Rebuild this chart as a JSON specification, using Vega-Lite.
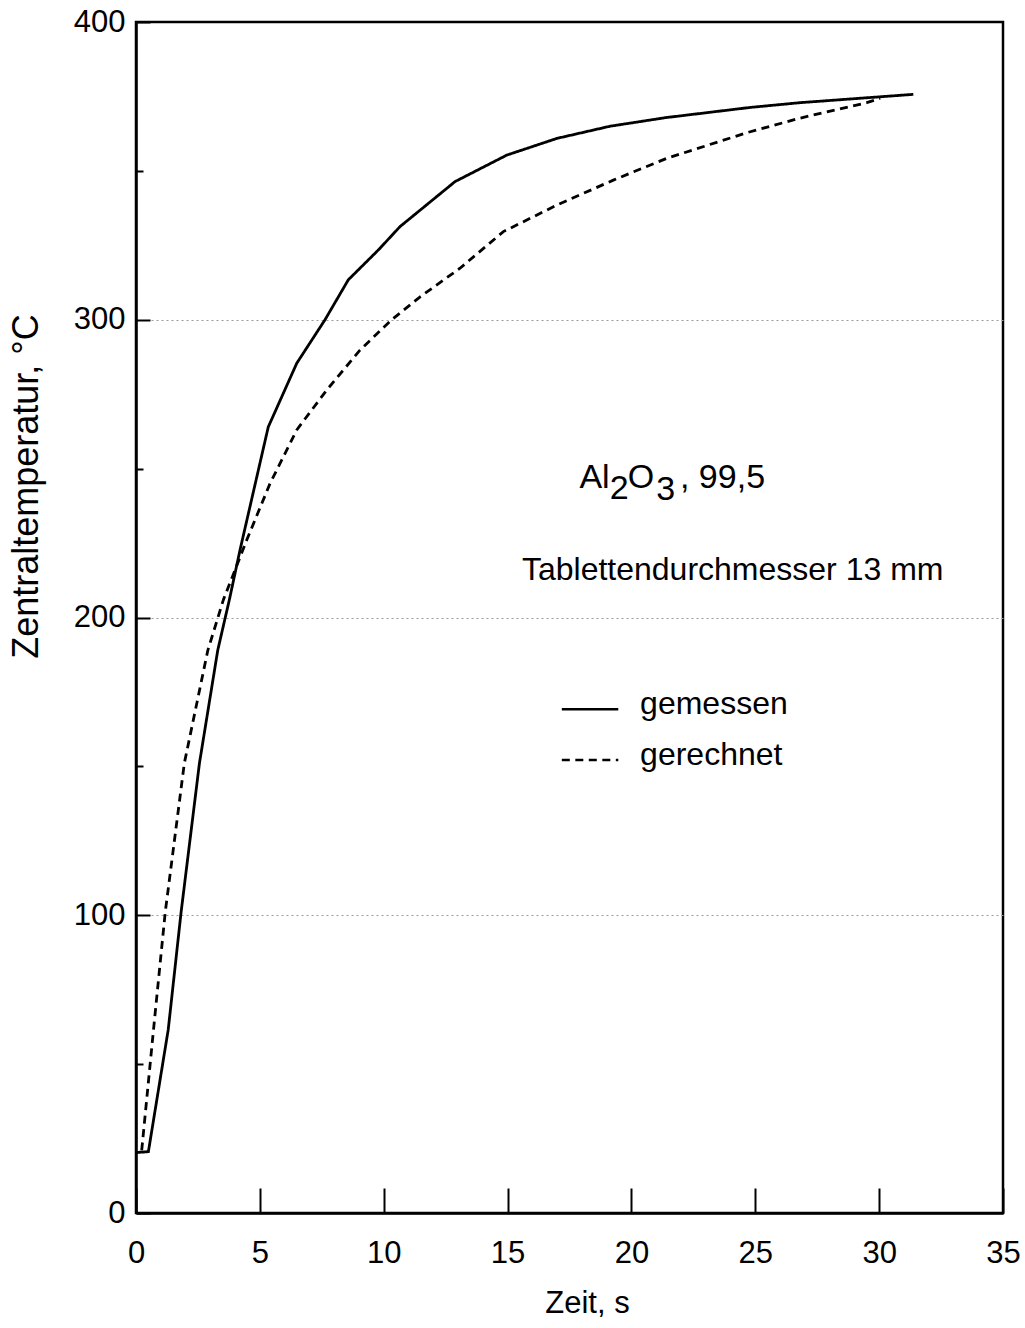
{
  "$schema": "https://vega.github.io/schema/vega-lite/v6.json",
  "width": 867,
  "height": 1191,
  "autosize": {"type": "none"},
  "padding": {"left": 136, "top": 22, "right": 22, "bottom": 115},
  "background": "white",
  "config": {
    "font": "Liberation Sans",
    "view": {"stroke": "black", "strokeWidth": 2.5},
    "axis": {"labelColor": "black", "titleColor": "black", "titleFontWeight": "normal", "domainColor": "black", "tickColor": "black", "labelFont": "Liberation Sans", "titleFont": "Liberation Sans"}
  },
  "datasets": {
    "kurven": [
      {"Serie": "gemessen", "Zeit": 0, "Temperatur": 20.3},
      {"Serie": "gemessen", "Zeit": 0.5, "Temperatur": 20.6},
      {"Serie": "gemessen", "Zeit": 1.3, "Temperatur": 61.5},
      {"Serie": "gemessen", "Zeit": 1.82, "Temperatur": 101},
      {"Serie": "gemessen", "Zeit": 2.56, "Temperatur": 151},
      {"Serie": "gemessen", "Zeit": 3.3, "Temperatur": 189},
      {"Serie": "gemessen", "Zeit": 3.77, "Temperatur": 206},
      {"Serie": "gemessen", "Zeit": 4.2, "Temperatur": 222.7},
      {"Serie": "gemessen", "Zeit": 5.34, "Temperatur": 264},
      {"Serie": "gemessen", "Zeit": 6.49, "Temperatur": 285.4},
      {"Serie": "gemessen", "Zeit": 7.63, "Temperatur": 300},
      {"Serie": "gemessen", "Zeit": 8.57, "Temperatur": 313.4},
      {"Serie": "gemessen", "Zeit": 9.78, "Temperatur": 323.4},
      {"Serie": "gemessen", "Zeit": 10.66, "Temperatur": 331.3},
      {"Serie": "gemessen", "Zeit": 12.88, "Temperatur": 346.4},
      {"Serie": "gemessen", "Zeit": 14.97, "Temperatur": 355.3},
      {"Serie": "gemessen", "Zeit": 16.99, "Temperatur": 360.9},
      {"Serie": "gemessen", "Zeit": 19.14, "Temperatur": 365},
      {"Serie": "gemessen", "Zeit": 21.4, "Temperatur": 367.9},
      {"Serie": "gemessen", "Zeit": 24.79, "Temperatur": 371.3},
      {"Serie": "gemessen", "Zeit": 26.8, "Temperatur": 372.9},
      {"Serie": "gemessen", "Zeit": 31.38, "Temperatur": 375.7},
      {"Serie": "gerechnet", "Zeit": 0.23, "Temperatur": 21},
      {"Serie": "gerechnet", "Zeit": 0.7, "Temperatur": 61},
      {"Serie": "gerechnet", "Zeit": 1.18, "Temperatur": 101},
      {"Serie": "gerechnet", "Zeit": 1.95, "Temperatur": 151},
      {"Serie": "gerechnet", "Zeit": 2.9, "Temperatur": 189},
      {"Serie": "gerechnet", "Zeit": 3.53, "Temperatur": 206},
      {"Serie": "gerechnet", "Zeit": 4.47, "Temperatur": 226},
      {"Serie": "gerechnet", "Zeit": 5.41, "Temperatur": 245},
      {"Serie": "gerechnet", "Zeit": 6.49, "Temperatur": 263},
      {"Serie": "gerechnet", "Zeit": 7.7, "Temperatur": 276.4},
      {"Serie": "gerechnet", "Zeit": 9.04, "Temperatur": 289.8},
      {"Serie": "gerechnet", "Zeit": 10.32, "Temperatur": 300},
      {"Serie": "gerechnet", "Zeit": 11.47, "Temperatur": 307.7},
      {"Serie": "gerechnet", "Zeit": 13.08, "Temperatur": 317.3},
      {"Serie": "gerechnet", "Zeit": 14.83, "Temperatur": 329.6},
      {"Serie": "gerechnet", "Zeit": 16.99, "Temperatur": 338.5},
      {"Serie": "gerechnet", "Zeit": 19.27, "Temperatur": 346.9},
      {"Serie": "gerechnet", "Zeit": 21.42, "Temperatur": 354.2},
      {"Serie": "gerechnet", "Zeit": 24.65, "Temperatur": 362.8},
      {"Serie": "gerechnet", "Zeit": 26.8, "Temperatur": 367.7},
      {"Serie": "gerechnet", "Zeit": 29.5, "Temperatur": 372.9},
      {"Serie": "gerechnet", "Zeit": 30.04, "Temperatur": 374.4}
    ],
    "formel": [
      {"Text": "Al", "Zeit": 17.9, "Temperatur": 243.4},
      {"Text": "2", "Zeit": 19.12, "Temperatur": 239.7},
      {"Text": "O", "Zeit": 19.85, "Temperatur": 243.4},
      {"Text": "3", "Zeit": 21.0, "Temperatur": 239.5},
      {"Text": ", 99,5", "Zeit": 21.96, "Temperatur": 243.4}
    ],
    "hinweis": [
      {"Text": "Tablettendurchmesser 13 mm", "Zeit": 15.58, "Temperatur": 212.6}
    ],
    "legendentext": [
      {"Text": "gemessen", "Zeit": 20.35, "Temperatur": 167.6},
      {"Text": "gerechnet", "Zeit": 20.35, "Temperatur": 150.5}
    ],
    "legendenlinien": [
      {"Serie": "gemessen", "Zeit": 17.19, "Zeit2": 19.47, "Temperatur": 169.2},
      {"Serie": "gerechnet", "Zeit": 17.19, "Zeit2": 19.47, "Temperatur": 152.1}
    ]
  },
  "encoding": {
    "x": {
      "field": "Zeit", "type": "quantitative",
      "scale": {"domain": [0, 35], "nice": false, "zero": false},
      "axis": {
        "title": "Zeit, s",
        "values": [0, 5, 10, 15, 20, 25, 30, 35],
        "grid": false,
        "tickSize": -25, "tickWidth": 2,
        "domainWidth": 2.5,
        "labelFontSize": 31, "labelPadding": 50,
        "labelFlush": false, "labelOverlap": false, "labelBound": false,
        "titleFontSize": 31, "titleX": 451, "titleY": 99,
        "titleBaseline": "alphabetic", "titleAlign": "center"
      }
    },
    "y": {
      "field": "Temperatur", "type": "quantitative",
      "scale": {"domain": [0, 400], "nice": false},
      "axis": {
        "title": "Zentraltemperatur, °C",
        "values": [0, 50, 100, 150, 200, 250, 300, 350, 400],
        "labelExpr": "datum.value % 100 === 0 ? datum.label : ''",
        "tickSize": {"condition": {"test": "datum.value % 100 === 0", "value": -14}, "value": -7},
        "tickWidth": 2,
        "domainWidth": 2.5,
        "labelFontSize": 31, "labelPadding": 25,
        "labelFlush": false, "labelOverlap": false, "labelBound": false,
        "grid": true, "gridColor": "#9a9a9a", "gridDash": [2, 3], "gridWidth": 1,
        "gridOpacity": {"condition": {"test": "datum.value % 100 === 0 && datum.value > 0 && datum.value < 400", "value": 1}, "value": 0},
        "titleFontSize": 36, "titleX": -99, "titleY": 464,
        "titleBaseline": "alphabetic", "titleAlign": "center", "titleAngle": 270
      }
    }
  },
  "layer": [
    {
      "data": {"name": "kurven"},
      "mark": {"type": "line", "color": "black", "strokeWidth": 2.8},
      "encoding": {
        "detail": {"field": "Serie"},
        "strokeDash": {
          "field": "Serie", "type": "nominal",
          "scale": {"domain": ["gemessen", "gerechnet"], "range": [[1, 0], [8, 5.5]]},
          "legend": null
        }
      }
    },
    {
      "data": {"name": "legendenlinien"},
      "mark": {"type": "rule", "color": "black", "strokeWidth": 2.5},
      "encoding": {
        "x2": {"field": "Zeit2"},
        "strokeDash": {"field": "Serie", "type": "nominal", "legend": null}
      }
    },
    {
      "data": {"name": "formel"},
      "mark": {"type": "text", "align": "left", "baseline": "alphabetic", "fontSize": 34, "color": "black", "font": "Liberation Sans"},
      "encoding": {"text": {"field": "Text"}}
    },
    {
      "data": {"name": "hinweis"},
      "mark": {"type": "text", "align": "left", "baseline": "alphabetic", "fontSize": 32, "color": "black", "font": "Liberation Sans"},
      "encoding": {"text": {"field": "Text"}}
    },
    {
      "data": {"name": "legendentext"},
      "mark": {"type": "text", "align": "left", "baseline": "alphabetic", "fontSize": 32, "color": "black", "font": "Liberation Sans"},
      "encoding": {"text": {"field": "Text"}}
    }
  ]
}
